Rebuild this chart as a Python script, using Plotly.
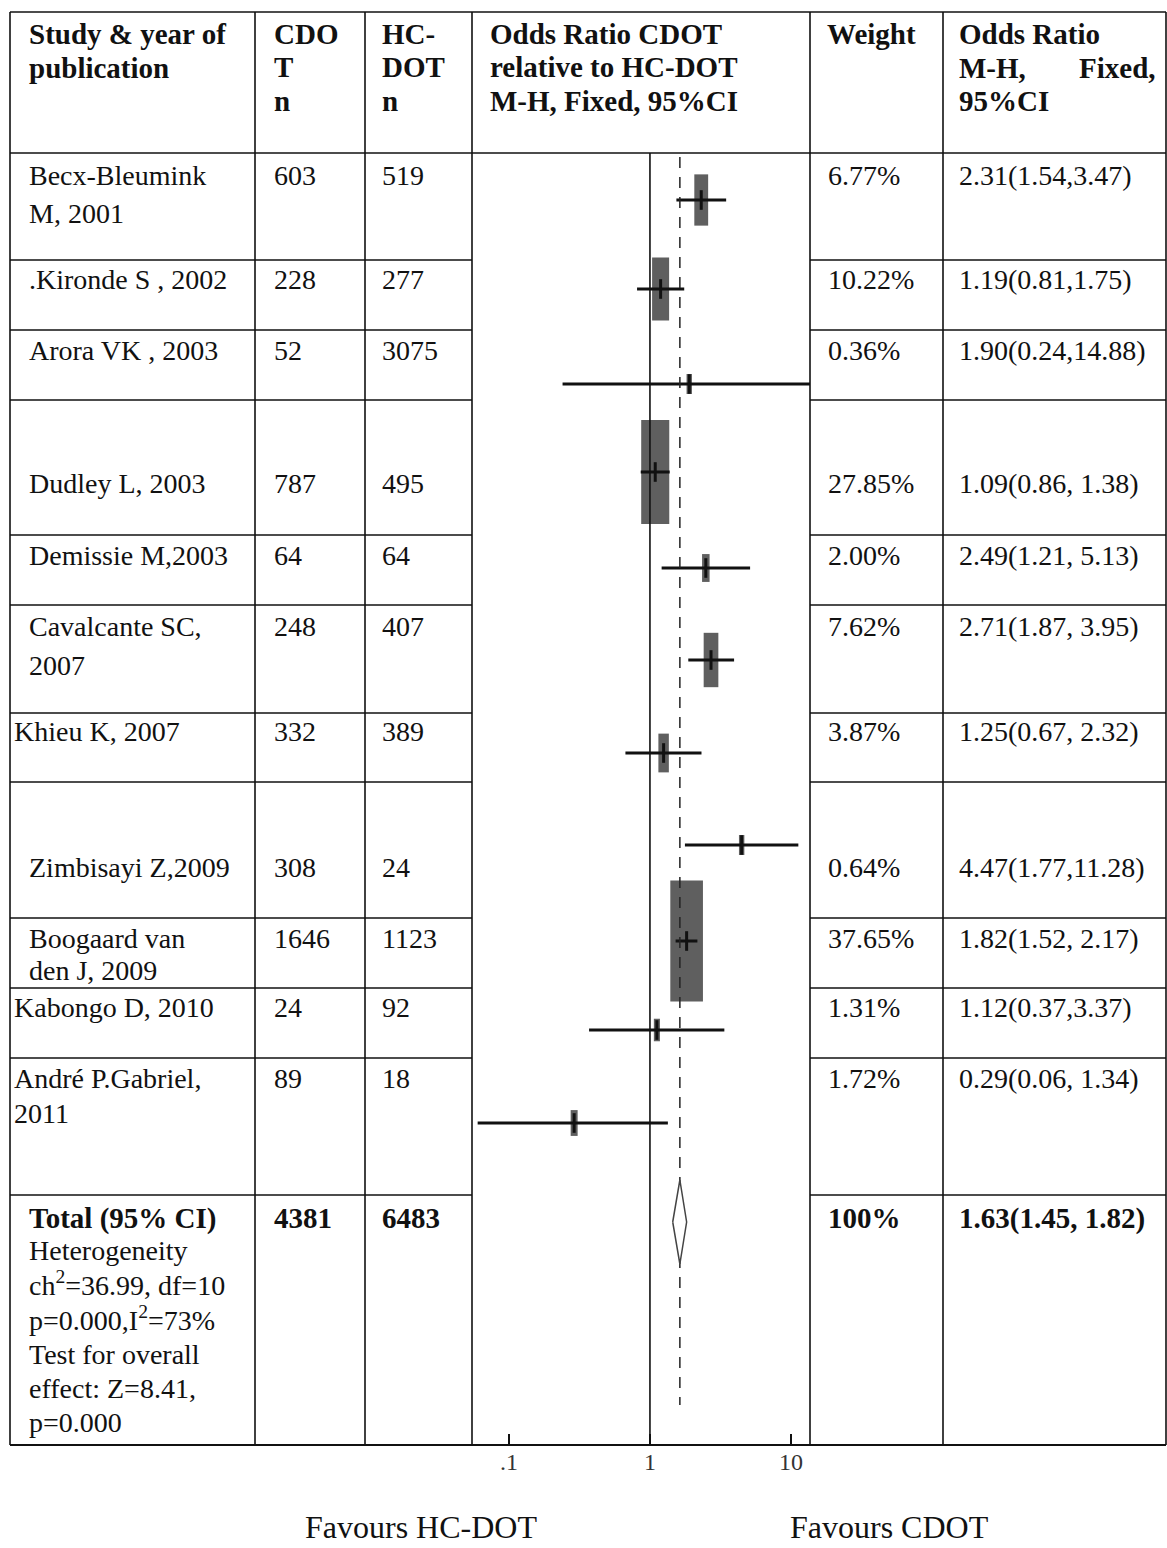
import math
import plotly.graph_objects as go

# ---------------------------------------------------------------- data
studies = ["Becx-Bleumink M, 2001", ".Kironde S , 2002", "Arora VK , 2003",
           "Dudley L, 2003", "Demissie M,2003", "Cavalcante SC, 2007",
           "Khieu K, 2007", "Zimbisayi Z,2009", "Boogaard van den J, 2009",
           "Kabongo D, 2010", "André P.Gabriel, 2011"]
cdot_n = [603, 228, 52, 787, 64, 248, 332, 308, 1646, 24, 89]
hcdot_n = [519, 277, 3075, 495, 64, 407, 389, 24, 1123, 92, 18]
weight_pct = [6.77, 10.22, 0.36, 27.85, 2.00, 7.62, 3.87, 0.64, 37.65, 1.31, 1.72]
odds_ratio = [2.31, 1.19, 1.90, 1.09, 2.49, 2.71, 1.25, 4.47, 1.82, 1.12, 0.29]
ci_low = [1.54, 0.81, 0.24, 0.86, 1.21, 1.87, 0.67, 1.77, 1.52, 0.37, 0.06]
ci_high = [3.47, 1.75, 14.88, 1.38, 5.13, 3.95, 2.32, 11.28, 2.17, 3.37, 1.34]
or_text = ["2.31(1.54,3.47)", "1.19(0.81,1.75)", "1.90(0.24,14.88)",
           "1.09(0.86, 1.38)", "2.49(1.21, 5.13)", "2.71(1.87, 3.95)",
           "1.25(0.67, 2.32)", "4.47(1.77,11.28)", "1.82(1.52, 2.17)",
           "1.12(0.37,3.37)", "0.29(0.06, 1.34)"]

total_cdot, total_hcdot = 4381, 6483
pooled_or, pooled_low, pooled_high = 1.63, 1.45, 1.82
heterogeneity_lines = ["Heterogeneity", "ch<sup>2</sup>=36.99, df=10",
                       "p=0.000,I<sup>2</sup>=73%", "Test for overall",
                       "effect: Z=8.41,", "p=0.000"]
tick_vals = [0.1, 1, 10]
tick_text = [".1", "1", "10"]

# ---------------------------------------------------------------- layout (pixels)
W, H = 1167, 1548
FONT = "Liberation Serif"
FS = 28
FS_BOLD = 29
INK = "#111111"

col_x = [10, 255, 365, 472, 810, 943, 1166]
top_y, head_y, bottom_y = 12, 153, 1445
row_lines = [260, 330, 400, 535, 605, 713, 782, 918, 988, 1058, 1195]

# per-study text layout: name lines, name x, first text line y, gap between lines
name_lines = [["Becx-Bleumink", "M, 2001"], [".Kironde S , 2002"], ["Arora VK , 2003"],
              ["Dudley L, 2003"], ["Demissie M,2003"], ["Cavalcante SC,", "2007"],
              ["Khieu K, 2007"], ["Zimbisayi Z,2009"], ["Boogaard van", "den J, 2009"],
              ["Kabongo D, 2010"], ["André P.Gabriel,", "2011"]]
name_x = [27, 27, 27, 27, 27, 27, 12, 27, 27, 12, 12]
text_y = [175, 280, 350, 484, 555, 626, 731, 868, 938, 1007, 1078]
line_gap = [38, 0, 0, 0, 0, 39, 0, 0, 32, 0, 35]
marker_y = [200, 289, 384, 472, 568, 660, 753, 845, 941, 1030, 1123]
diamond_y, diamond_half = 1222, 42

plot_x0, plot_x1 = col_x[3], col_x[4]
log_range = [-1.262, 1.135]
px_per_decade = (plot_x1 - plot_x0) / (log_range[1] - log_range[0])


def px(x):
    return x / W


def py(y):
    return 1 - y / H


fig = go.Figure()

# ---------------------------------------------------------------- table grid
shapes = []


def hline(y, x0, x1, w=1.6):
    shapes.append(dict(type="line", xref="paper", yref="paper", x0=px(x0), x1=px(x1),
                       y0=py(y), y1=py(y), line=dict(color=INK, width=w)))


def vline(x, y0, y1, w=1.6):
    shapes.append(dict(type="line", xref="paper", yref="paper", x0=px(x), x1=px(x),
                       y0=py(y0), y1=py(y1), line=dict(color=INK, width=w)))


for x in col_x:
    vline(x, top_y, bottom_y)
hline(top_y, col_x[0], col_x[-1])
hline(head_y, col_x[0], col_x[-1])
hline(bottom_y, col_x[0], col_x[-1], w=2)
for y in row_lines:
    hline(y, col_x[0], col_x[3])
    hline(y, col_x[4], col_x[-1])

# ---------------------------------------------------------------- text
annotations = []


def label(text, x, y, bold=False, anchor="left", size=None):
    if size is None:
        size = FS_BOLD if bold else FS
    if bold:
        text = "<b>" + text + "</b>"
    annotations.append(dict(text=text, x=px(x), y=py(y), xref="paper", yref="paper",
                            xanchor=anchor, yanchor="middle", showarrow=False,
                            font=dict(family=FONT, size=size, color=INK)))


# header
label("Study & year of", 27, 34, bold=True)
label("publication", 27, 68, bold=True)
for i, t in enumerate(["CDO", "T", "n"]):
    label(t, 272, 34 + 33.5 * i, bold=True)
for i, t in enumerate(["HC-", "DOT", "n"]):
    label(t, 380, 34 + 33.5 * i, bold=True)
for i, t in enumerate(["Odds Ratio CDOT", "relative to HC-DOT", "M-H, Fixed, 95%CI"]):
    label(t, 488, 34 + 33.5 * i, bold=True)
label("Weight", 825, 34, bold=True)
label("Odds Ratio", 957, 34, bold=True)
label("M-H,", 957, 68, bold=True)
label("Fixed,", 1158, 68, bold=True, anchor="right")
label("95%CI", 957, 101, bold=True)

# study rows
for i in range(len(studies)):
    y = text_y[i]
    for k, t in enumerate(name_lines[i]):
        label(t, name_x[i], y + k * line_gap[i])
    label(str(cdot_n[i]), 272, y)
    label(str(hcdot_n[i]), 380, y)
    label(f"{weight_pct[i]:.2f}%", 826, y)
    label(or_text[i], 957, y)

# total row
label("Total (95% CI)", 27, 1218, bold=True)
label(str(total_cdot), 272, 1218, bold=True)
label(str(total_hcdot), 380, 1218, bold=True)
label("100%", 826, 1218, bold=True)
label(f"{pooled_or:.2f}({pooled_low:.2f}, {pooled_high:.2f})", 957, 1218, bold=True)
for k, t in enumerate(heterogeneity_lines):
    label(t, 27, 1250 + [0, 33, 68, 104, 138, 172][k])

# direction captions
label("Favours HC-DOT", 421, 1527, anchor="center", size=32)
label("Favours CDOT", 890, 1527, anchor="center", size=32)

# ---------------------------------------------------------------- forest plot
BOX = "#5f5f5f"


def decades(pixels):
    return pixels / px_per_decade


for i in range(len(studies)):
    yc = marker_y[i]
    h = max(20.0, 19.7 * math.sqrt(weight_pct[i]))
    w = max(4.0, 0.27 * h)
    half = decades(w / 2)
    lo = odds_ratio[i] * 10 ** (-half)
    hi = odds_ratio[i] * 10 ** half
    fig.add_trace(go.Scatter(x=[lo, hi, hi, lo, lo],
                             y=[yc - h / 2, yc - h / 2, yc + h / 2, yc + h / 2, yc - h / 2],
                             mode="lines", fill="toself", fillcolor=BOX,
                             line=dict(width=0), hoverinfo="skip", showlegend=False))
    fig.add_trace(go.Scatter(x=[ci_low[i], ci_high[i]], y=[yc, yc], mode="lines",
                             line=dict(color=INK, width=3), hoverinfo="skip",
                             showlegend=False))
    fig.add_trace(go.Scatter(x=[odds_ratio[i]], y=[yc], mode="markers",
                             marker=dict(symbol="line-ns", size=14,
                                         line=dict(color=INK, width=3)),
                             hoverinfo="skip", showlegend=False))

# line of no effect and pooled estimate
fig.add_trace(go.Scatter(x=[1, 1], y=[head_y, bottom_y], mode="lines",
                         line=dict(color=INK, width=1.6), hoverinfo="skip",
                         showlegend=False))
fig.add_trace(go.Scatter(x=[pooled_or, pooled_or], y=[head_y + 4, 1405], mode="lines",
                         line=dict(color="#222222", width=1.5, dash="11px,9px"),
                         hoverinfo="skip", showlegend=False))
fig.add_trace(go.Scatter(x=[pooled_low, pooled_or, pooled_high, pooled_or, pooled_low],
                         y=[diamond_y, diamond_y - diamond_half, diamond_y,
                            diamond_y + diamond_half, diamond_y],
                         mode="lines", fill="toself", fillcolor="white",
                         line=dict(color="#444444", width=1.5), hoverinfo="skip",
                         showlegend=False))

fig.update_layout(
    width=W, height=H, autosize=False,
    margin=dict(l=0, r=0, t=0, b=0),
    paper_bgcolor="white", plot_bgcolor="rgba(0,0,0,0)",
    shapes=shapes, annotations=annotations,
    xaxis=dict(type="log", domain=[px(plot_x0), px(plot_x1)], range=log_range,
               showgrid=False, zeroline=False, showline=False,
               tickvals=tick_vals, ticktext=tick_text, ticks="inside", ticklen=11,
               tickwidth=2, tickcolor=INK,
               tickfont=dict(family=FONT, size=24, color="#333333")),
    yaxis=dict(domain=[py(bottom_y), py(head_y)], range=[bottom_y, head_y],
               visible=False, showgrid=False, zeroline=False),
)

fig.write_html("out.html")
